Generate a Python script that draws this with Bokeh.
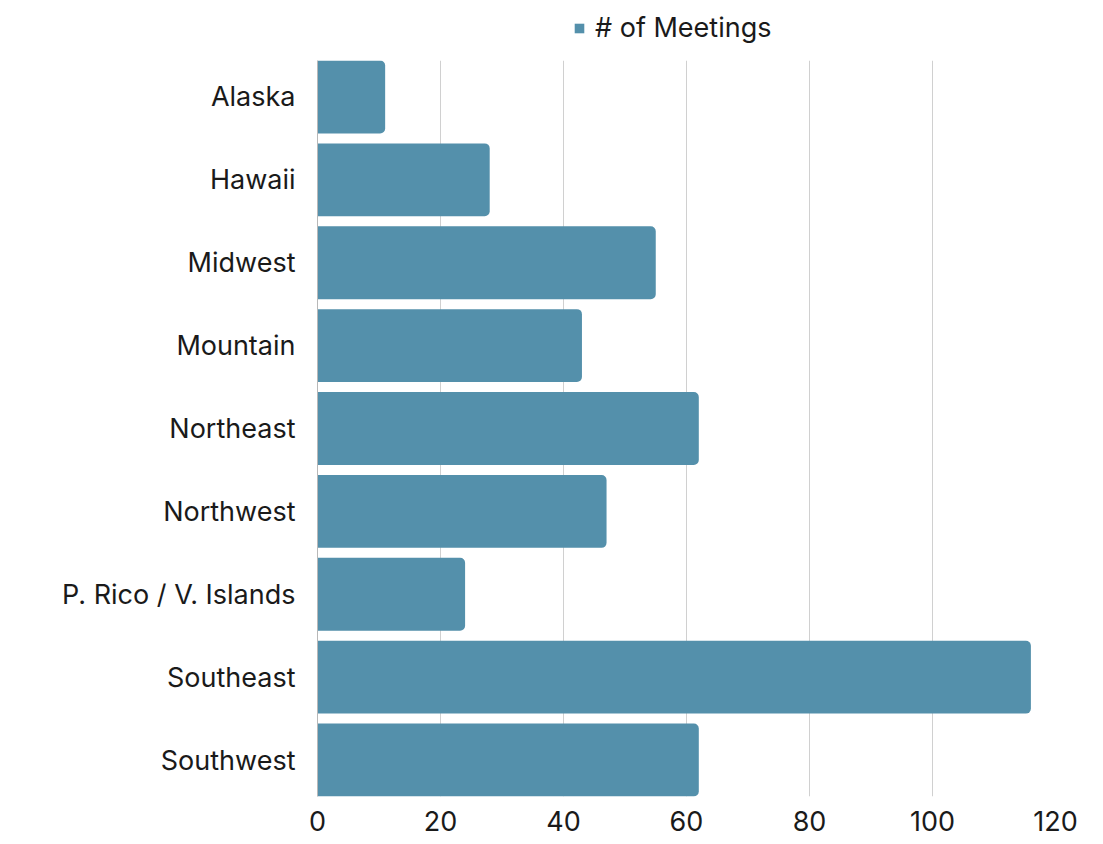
from bokeh.plotting import figure
from bokeh.layouts import column
from bokeh.models import ColumnDataSource, FactorRange, Range1d, Legend, LegendItem, SingleIntervalTicker
from bokeh.embed import file_html
from bokeh.resources import INLINE

regions = ["Alaska", "Hawaii", "Midwest", "Mountain", "Northeast", "Northwest",
           "P. Rico / V. Islands", "Southeast", "Southwest"]
meetings = [11, 28, 55, 43, 62, 47, 24, 116, 62]
series_name = "# of Meetings"

BAR = "#5490ab"
FONT = "Inter"
TXT = "#1a1a1a"
FS = "27px"

src = ColumnDataSource(dict(region=regions, meetings=meetings))

# ---- main chart ----
p = figure(frame_width=738, frame_height=736, output_backend="svg", toolbar_location=None,
           y_range=FactorRange(factors=list(reversed(regions)), range_padding=-0.06,
                               range_padding_units="absolute"),
           x_range=Range1d(0, 120),
           min_border_left=317, min_border_right=40, min_border_top=0, min_border_bottom=46)
p.outline_line_color = None

r = p.hbar(y="region", right="meetings", left=0, height=0.88, source=src,
           fill_color=BAR, line_color=None, border_radius=(0, 5, 5, 0))

p.xaxis.ticker = SingleIntervalTicker(interval=20)
p.xaxis.axis_line_color = None
p.xaxis.major_tick_line_color = None
p.xaxis.minor_tick_line_color = None
p.xaxis.major_label_text_font = FONT
p.xaxis.major_label_text_font_size = FS
p.xaxis.major_label_text_color = TXT
p.xaxis.major_label_standoff = 8

p.yaxis.axis_line_color = "#b8b8b8"
p.yaxis.axis_line_width = 1
p.yaxis.major_tick_line_color = None
p.yaxis.minor_tick_line_color = None
p.yaxis.major_label_text_font = FONT
p.yaxis.major_label_text_font_size = FS
p.yaxis.major_label_text_color = TXT
p.yaxis.major_label_standoff = 16

p.xgrid.grid_line_color = "#d0d0d0"
p.xgrid.grid_line_width = 1
p.ygrid.grid_line_color = None

# ---- legend strip above the chart (its bars map to no factor, so none are drawn) ----
lg = figure(frame_width=738, frame_height=60, output_backend="svg", toolbar_location=None,
            x_axis_type=None, y_axis_type=None,
            y_range=FactorRange(factors=[series_name]),
            x_range=Range1d(0, 120),
            min_border_left=317, min_border_right=40, min_border_top=0, min_border_bottom=0)
lg.outline_line_color = None
lg.xgrid.grid_line_color = None
lg.ygrid.grid_line_color = None
lr = lg.hbar(y="region", right="meetings", left=0, height=0.88, source=src,
             fill_color=BAR, line_color=None)

legend = Legend(items=[LegendItem(label=series_name, renderers=[lr])],
                orientation="horizontal", location=(256, 16),
                label_text_font=FONT, label_text_font_size=FS, label_text_color=TXT,
                glyph_width=12, glyph_height=12, label_standoff=10,
                border_line_color=None, background_fill_alpha=0,
                padding=0, margin=0)
lg.add_layout(legend, "center")

layout = column(lg, p, spacing=0)
open("out.html", "w").write(file_html(layout, INLINE))
